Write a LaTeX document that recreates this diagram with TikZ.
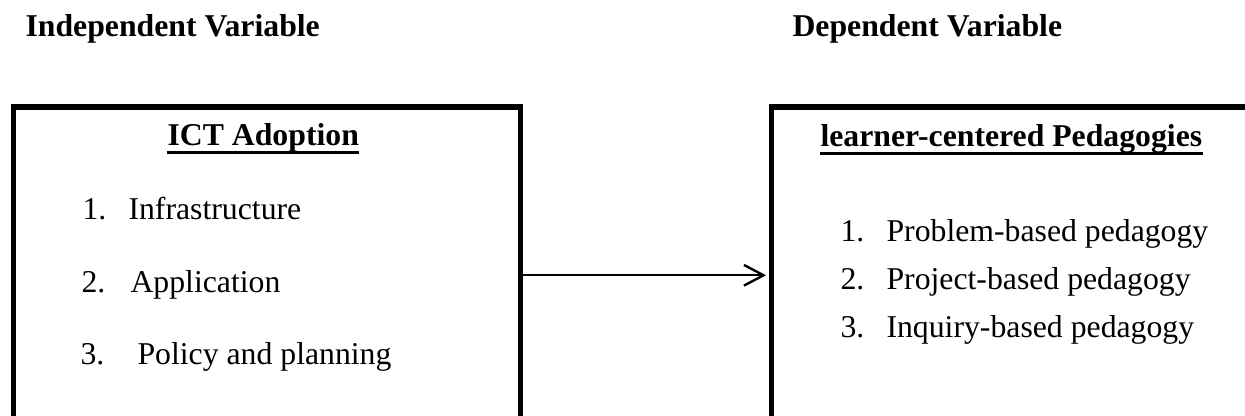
\documentclass[tikz,border=0pt]{standalone}
\usepackage{fontspec}
\setmainfont{Liberation Serif}
\usetikzlibrary{arrows.meta,calc}
\tikzset{
  box/.style={draw=black, line width=1.9pt, rectangle, inner sep=0pt},
  txt/.style={anchor=base west, inner sep=0pt, font=\fontsize{12pt}{14pt}\selectfont},
  btxt/.style={txt, font=\fontsize{12pt}{14pt}\selectfont\bfseries},
  ul/.style={line width=1.05pt},
  arrowline/.style={line width=0.76pt, -{Straight Barb[length=7.4pt,width=7.8pt,line width=0.9pt]}, shorten >=0.9pt}
}
\begin{document}
\begin{tikzpicture}[x=0.378pt, y=-0.378pt]
\useasboundingbox (0,0) rectangle (1245,416);
\clip (0,0) rectangle (1245,416);
\fill[white] (0,0) rectangle (1245,416);
% headings
\node[btxt] (iv) at (25,37) {Independent Variable};
\node[btxt] (dv) at (792,37) {Dependent Variable};
% boxes
\node[box, anchor=north west, minimum width=192.0pt, minimum height=127.2pt] (L) at (10.5,104.5) {};
\node[box, anchor=north west, minimum width=190pt, minimum height=127.2pt] (R) at (768.5,104.5) {};
% box titles
\node[btxt] (ict) at (167,146) {ICT Adoption};
\draw[ul] ($(ict.base west)+(0,6.5)$) -- ($(ict.base east)+(0,6.5)$);
\node[btxt] (lcp) at (820,147) {learner-centered Pedagogies};
\draw[ul] ($(lcp.base west)+(0,6.5)$) -- ($(lcp.base east)+(0,6.5)$);
% left items
\node[txt] (n1) at (82,220) {1.};
\node[txt] (i1) at (128,220) {Infrastructure};
\node[txt] (n2) at (81,293) {2.};
\node[txt] (i2) at (130,293) {Application};
\node[txt] (n3) at (80,365) {3.};
\node[txt] (i3) at (137,365) {Policy and planning};
% right items
\node[txt] (m1) at (840,242) {1.};
\node[txt] (j1) at (886,242) {Problem-based pedagogy};
\node[txt] (m2) at (840,290) {2.};
\node[txt] (j2) at (886,290) {Project-based pedagogy};
\node[txt] (m3) at (840,338) {3.};
\node[txt] (j3) at (886,338) {Inquiry-based pedagogy};
% arrow
\draw[arrowline] (L.east) -- (R.west);
\end{tikzpicture}
\end{document}
